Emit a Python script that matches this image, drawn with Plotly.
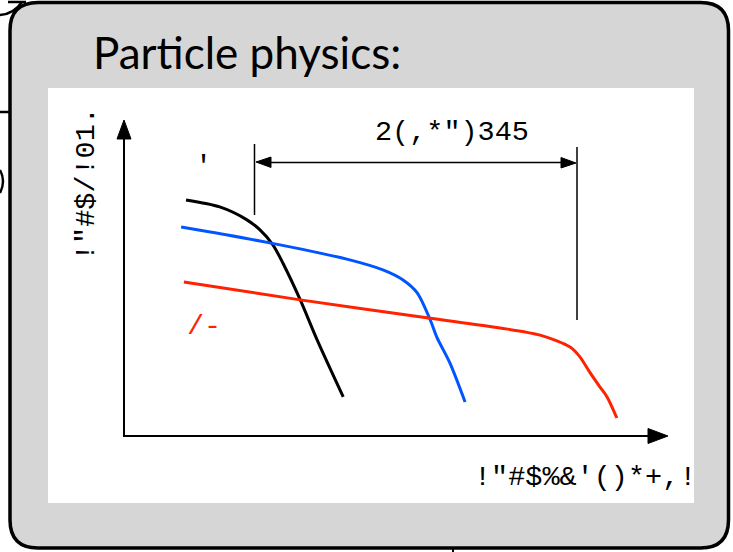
import plotly.graph_objects as go

W, H = 733, 552

# ---- data (arbitrary units, origin at the axes corner) ----
black_x = [1.14, 1.76, 2.26, 2.50, 2.74, 2.92, 3.24, 3.55, 4.03]
black_y = [7.46, 7.24, 6.83, 6.51, 6.03, 5.46, 4.29, 3.02, 1.21]

blue_x = [1.05, 2.68, 4.15, 4.76, 5.13, 5.39, 5.63, 5.75, 5.99, 6.27]
blue_y = [6.60, 6.10, 5.56, 5.24, 4.92, 4.51, 3.65, 3.11, 2.29, 1.05]

red_x = [1.10, 3.24, 5.63, 6.91, 7.65, 8.20, 8.38, 8.57, 8.75, 8.88, 9.06]
red_y = [4.86, 4.29, 3.71, 3.40, 3.17, 2.79, 2.48, 1.97, 1.52, 1.21, 0.54]

title_text = "Particle physics:"
y_label = '!"#$/!01.'
x_label = '!"#$%&\'()*+,!'
dim_label = '2(,*")345'
black_label = "'"
red_label = "/-"

BLUE = "#0055ff"
RED = "#ff2200"
GRAY = "#d6d6d6"


def px(x):
    return x / W


def py(y):
    return 1 - y / H


def path(cmds):
    out = []
    for c in cmds:
        if c[0] == "Z":
            out.append("Z")
        else:
            letter = c[0]
            nums = c[1:]
            pts = []
            for i in range(0, len(nums), 2):
                pts.append(f"{px(nums[i]):.5f},{py(nums[i+1]):.5f}")
            out.append(letter + " " + " ".join(pts))
    return " ".join(out)


def rrect(x0, y0, x1, y1, r):
    return path([
        ("M", x0 + r, y0), ("L", x1 - r, y0), ("Q", x1, y0, x1, y0 + r),
        ("L", x1, y1 - r), ("Q", x1, y1, x1 - r, y1), ("L", x0 + r, y1),
        ("Q", x0, y1, x0, y1 - r), ("L", x0, y0 + r), ("Q", x0, y0, x0 + r, y0), ("Z",)
    ])


shapes = []
# stray elements of the slide behind
shapes.append(dict(type="path", xref="paper", yref="paper", layer="below",
                   path=path([("M", 0, 15), ("Q", 14, 14, 22, 2)]),
                   line=dict(color="black", width=2.5)))
shapes.append(dict(type="path", xref="paper", yref="paper", layer="below",
                   path=path([("M", 8, 2), ("L", 26, 2)]),
                   line=dict(color="black", width=2.5)))
shapes.append(dict(type="path", xref="paper", yref="paper", layer="below",
                   path=path([("M", 0, 112), ("L", 10, 112)]),
                   line=dict(color="black", width=2.5)))
shapes.append(dict(type="path", xref="paper", yref="paper", layer="below",
                   path=path([("M", 0, 170), ("Q", 6, 181, 0, 193)]),
                   line=dict(color="black", width=2.5)))
shapes.append(dict(type="path", xref="paper", yref="paper", layer="below",
                   path=path([("M", 453, 548), ("L", 453, 552)]),
                   line=dict(color="black", width=2)))

# gray rounded panel
shapes.append(dict(type="path", xref="paper", yref="paper", layer="below",
                   path=rrect(10, 2.5, 728.5, 548, 28),
                   fillcolor=GRAY, line=dict(color="black", width=3.5)))
# white figure area
shapes.append(dict(type="rect", xref="paper", yref="paper", layer="below",
                   x0=px(48), x1=px(694), y0=py(503), y1=py(88),
                   fillcolor="white", line=dict(width=0)))

# axes
shapes.append(dict(type="path", xref="paper", yref="paper", layer="below",
                   path=path([("M", 124, 436), ("L", 124, 136)]),
                   line=dict(color="black", width=2)))
shapes.append(dict(type="path", xref="paper", yref="paper", layer="below",
                   path=path([("M", 123, 436), ("L", 650, 436)]),
                   line=dict(color="black", width=2)))
# arrowheads
shapes.append(dict(type="path", xref="paper", yref="paper", layer="below",
                   path=path([("M", 124, 120), ("L", 131, 139), ("L", 117, 139), ("Z",)]),
                   fillcolor="black", line=dict(color="black", width=1)))
shapes.append(dict(type="path", xref="paper", yref="paper", layer="below",
                   path=path([("M", 668, 436), ("L", 648, 428.5), ("L", 648, 443.5), ("Z",)]),
                   fillcolor="black", line=dict(color="black", width=1)))

# dimension marker
shapes.append(dict(type="path", xref="paper", yref="paper", layer="below",
                   path=path([("M", 254.5, 144), ("L", 254.5, 215)]),
                   line=dict(color="black", width=1.5)))
shapes.append(dict(type="path", xref="paper", yref="paper", layer="below",
                   path=path([("M", 577, 147), ("L", 577, 320)]),
                   line=dict(color="black", width=1.5)))
shapes.append(dict(type="path", xref="paper", yref="paper", layer="below",
                   path=path([("M", 268, 162.5), ("L", 563, 162.5)]),
                   line=dict(color="black", width=1.5)))
shapes.append(dict(type="path", xref="paper", yref="paper", layer="below",
                   path=path([("M", 256, 162), ("L", 271, 157), ("L", 271, 167.5), ("Z",)]),
                   fillcolor="black", line=dict(color="black", width=1)))
shapes.append(dict(type="path", xref="paper", yref="paper", layer="below",
                   path=path([("M", 576, 163), ("L", 561, 157.5), ("L", 561, 168), ("Z",)]),
                   fillcolor="black", line=dict(color="black", width=1)))

fig = go.Figure()
fig.add_trace(go.Scatter(x=black_x, y=black_y, mode="lines",
                         line=dict(color="black", width=3, shape="spline", smoothing=0.8),
                         hoverinfo="skip"))
fig.add_trace(go.Scatter(x=blue_x, y=blue_y, mode="lines",
                         line=dict(color=BLUE, width=3, shape="spline", smoothing=0.8),
                         hoverinfo="skip"))
fig.add_trace(go.Scatter(x=red_x, y=red_y, mode="lines",
                         line=dict(color=RED, width=3, shape="spline", smoothing=0.8),
                         hoverinfo="skip"))

MONO = "Liberation Mono, Courier New, monospace"
annotations = [
    dict(text=title_text, x=px(91), y=py(80), xanchor="left", yanchor="bottom",
         font=dict(family="Lato, sans-serif", size=44, color="black")),
    dict(text=dim_label, x=px(452), y=py(133), xanchor="center", yanchor="middle",
         font=dict(family=MONO, size=28.5, color="black")),
    dict(text=x_label, x=px(585), y=py(477), xanchor="center", yanchor="middle",
         font=dict(family=MONO, size=28.5, color="black")),
    dict(text=y_label, x=px(87), y=py(184), xanchor="center", yanchor="middle",
         textangle=-90, font=dict(family=MONO, size=28.5, color="black")),
    dict(text=black_label, x=px(203), y=py(166), xanchor="center", yanchor="middle",
         font=dict(family=MONO, size=28.5, color="black")),
    dict(text=red_label, x=px(204), y=py(326), xanchor="center", yanchor="middle",
         font=dict(family=MONO, size=28.5, color=RED)),
]
for a in annotations:
    a.update(xref="paper", yref="paper", showarrow=False)

fig.update_layout(
    width=W, height=H,
    margin=dict(l=0, r=0, t=0, b=0),
    paper_bgcolor="white",
    plot_bgcolor="rgba(0,0,0,0)",
    showlegend=False,
    shapes=shapes,
    annotations=annotations,
    xaxis=dict(domain=[124 / W, 668 / W], range=[0, 10], visible=False, fixedrange=True),
    yaxis=dict(domain=[1 - 435 / H, 1 - 120 / H], range=[0, 10], visible=False, fixedrange=True),
)

fig.write_html("out.html", config={"displayModeBar": False},
               post_script="document.body.style.margin='0px';document.body.style.overflow='hidden';")
